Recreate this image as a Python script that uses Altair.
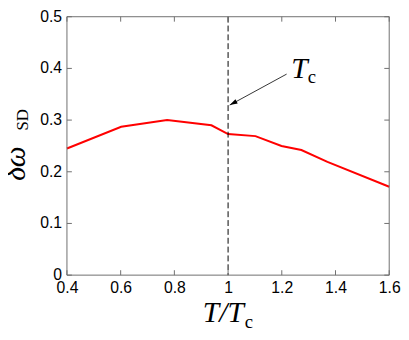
import math
import altair as alt
import pandas as pd

# ---- data ----
t_ratio = [0.4, 0.602, 0.773, 0.938, 1.0, 1.102, 1.199, 1.273, 1.370, 1.6]
delta_omega = [0.245, 0.287, 0.300, 0.290, 0.273, 0.269, 0.250, 0.242, 0.219, 0.171]

x_ticks = [0.4, 0.6, 0.8, 1.0, 1.2, 1.4, 1.6]
y_ticks = [0.0, 0.1, 0.2, 0.3, 0.4, 0.5]

tc_line = [1.0]
arrow_start = (1.218, 0.389)
arrow_end = (1.006, 0.329)
label_T_pos = (1.235, 0.382)
label_c_pos = (1.297, 0.371)

# layout: the drawing group spans the whole width; the data frame starts at L
L, R = 60, 388
W, H = R, 263
XD, YD = [0.4, 1.6], [0.0, 0.5]
FRAME = "#6e6e6e"
SERIF = "Liberation Serif"
SANS = "Liberation Sans"
LFS = 16

xs = alt.Scale(domain=XD, range=[L, R], nice=False, zero=False)
ys = alt.Scale(domain=YD, nice=False, zero=False)

px_x = (R - L) / (XD[1] - XD[0])
px_y = H / (YD[1] - YD[0])


def px_to_data(px, py):
    return XD[0] + (px - L) / px_x, YD[1] - py / px_y


curve_df = pd.DataFrame({"t": t_ratio, "d": delta_omega})
xt_df = pd.DataFrame({"v": x_ticks})
yt_df = pd.DataFrame({"v": y_ticks})

curve = alt.Chart(curve_df).mark_line(color="#ff0000", strokeWidth=2).encode(
    x=alt.X("t:Q", scale=xs,
            axis=alt.Axis(title=None, values=x_ticks, ticks=False, domain=False, grid=False,
                          labelFont=SANS, labelFontSize=LFS, labelColor="black",
                          labelPadding=5, labelFlush=False, labelOverlap=False,
                          labelExpr="format(datum.value, '.1~f')")),
    y=alt.Y("d:Q", scale=ys, axis=None),
)

ylabels = alt.Chart(yt_df).mark_text(
    font=SANS, fontSize=LFS, align="right", baseline="middle", color="black"
).encode(y=alt.Y("v:Q", scale=ys), x=alt.value(L - 5),
         text=alt.Text("v:Q", format=".1~f"))

vline = alt.Chart(pd.DataFrame({"x": tc_line})).mark_rule(
    color="black", strokeWidth=1, strokeDash=[6, 3]
).encode(x=alt.X("x:Q", scale=xs))

# frame
frame_l = alt.Chart(pd.DataFrame({"x": [XD[0]]})).mark_rule(color=FRAME).encode(
    x=alt.X("x:Q", scale=xs))
frame_r = alt.Chart(pd.DataFrame({"x": [XD[1]]})).mark_rule(color=FRAME).encode(
    x=alt.X("x:Q", scale=xs))
frame_tb = alt.Chart(pd.DataFrame({"y": YD, "x": [XD[0]] * 2, "x2": [XD[1]] * 2})).mark_rule(
    color=FRAME).encode(y=alt.Y("y:Q", scale=ys), x=alt.X("x:Q", scale=xs), x2="x2:Q")

tick_len = 5
bottom_t = alt.Chart(xt_df).mark_rule(color=FRAME).encode(
    x=alt.X("v:Q", scale=xs), y=alt.value(H), y2=alt.value(H - tick_len))
top_t = alt.Chart(xt_df).mark_rule(color=FRAME).encode(
    x=alt.X("v:Q", scale=xs), y=alt.value(0), y2=alt.value(tick_len))
left_t = alt.Chart(yt_df).mark_rule(color=FRAME).encode(
    y=alt.Y("v:Q", scale=ys), x=alt.value(L), x2=alt.value(L + tick_len))
right_t = alt.Chart(yt_df).mark_rule(color=FRAME).encode(
    y=alt.Y("v:Q", scale=ys), x=alt.value(R), x2=alt.value(R - tick_len))

arrow_df = pd.DataFrame({"x": [arrow_start[0]], "y": [arrow_start[1]],
                         "x2": [arrow_end[0]], "y2": [arrow_end[1]]})
arrow_line = alt.Chart(arrow_df).mark_rule(color="black", strokeWidth=0.8).encode(
    x=alt.X("x:Q", scale=xs), y=alt.Y("y:Q", scale=ys), x2="x2:Q", y2="y2:Q")

dx = (arrow_end[0] - arrow_start[0]) * px_x
dy = -(arrow_end[1] - arrow_start[1]) * px_y
ang = (math.degrees(math.atan2(dx, -dy)) + 360) % 360

head = alt.Chart(pd.DataFrame({"x": [arrow_end[0]], "y": [arrow_end[1]]})).mark_point(
    shape="M0,0L-0.6,2L0.6,2Z", filled=True, color="black", opacity=1,
    size=64, angle=ang, strokeWidth=0
).encode(x=alt.X("x:Q", scale=xs), y=alt.Y("y:Q", scale=ys))

lab_T = alt.Chart(pd.DataFrame({"x": [label_T_pos[0]], "y": [label_T_pos[1]], "s": ["T"]})).mark_text(
    font=SERIF, fontStyle="italic", fontSize=30, align="left", baseline="alphabetic", color="black"
).encode(x=alt.X("x:Q", scale=xs), y=alt.Y("y:Q", scale=ys), text="s:N")
lab_c = alt.Chart(pd.DataFrame({"x": [label_c_pos[0]], "y": [label_c_pos[1]], "s": ["c"]})).mark_text(
    font=SERIF, fontSize=19, align="left", baseline="alphabetic", color="black"
).encode(x=alt.X("x:Q", scale=xs), y=alt.Y("y:Q", scale=ys), text="s:N")

# x title (with subscript)
xt_main = alt.Chart(pd.DataFrame({"s": ["T/T"]})).mark_text(
    font=SERIF, fontStyle="italic", fontSize=30, align="right", baseline="alphabetic", color="black"
).encode(x=alt.value(L + 180), y=alt.value(H + 48), text="s:N")
xt_sub = alt.Chart(pd.DataFrame({"s": ["c"]})).mark_text(
    font=SERIF, fontSize=19, align="left", baseline="alphabetic", color="black"
).encode(x=alt.value(L + 181), y=alt.value(H + 54), text="s:N")

# y title (rotated), generic serif font, default align/baseline as in the working test
ym = px_to_data(8, 149.5)
ysb = px_to_data(15, 105)
yt_main = alt.Chart(pd.DataFrame({"x": [ym[0]], "y": [ym[1]], "s": ["δω"]})).mark_text(
    font="serif", fontStyle="italic", fontSize=30, angle=270
).encode(x=alt.X("x:Q", scale=xs), y=alt.Y("y:Q", scale=ys), text="s:N")
yt_sub = alt.Chart(pd.DataFrame({"x": [ysb[0]], "y": [ysb[1]], "s": ["SD"]})).mark_text(
    font="serif", fontSize=17, angle=270
).encode(x=alt.X("x:Q", scale=xs), y=alt.Y("y:Q", scale=ys), text="s:N")

chart = alt.layer(
    curve, ylabels, vline, frame_l, frame_r, frame_tb,
    bottom_t, top_t, left_t, right_t, arrow_line, head,
    lab_T, lab_c, xt_main, xt_sub, yt_main, yt_sub
).properties(
    width=W, height=H,
    autosize=alt.AutoSizeParams(type="none"),
    padding={"left": 0, "top": 6, "right": 12, "bottom": 55},
    background="white",
).configure_view(strokeWidth=0)

chart.save("out.html", embed_options={"renderer": "svg", "actions": False})
